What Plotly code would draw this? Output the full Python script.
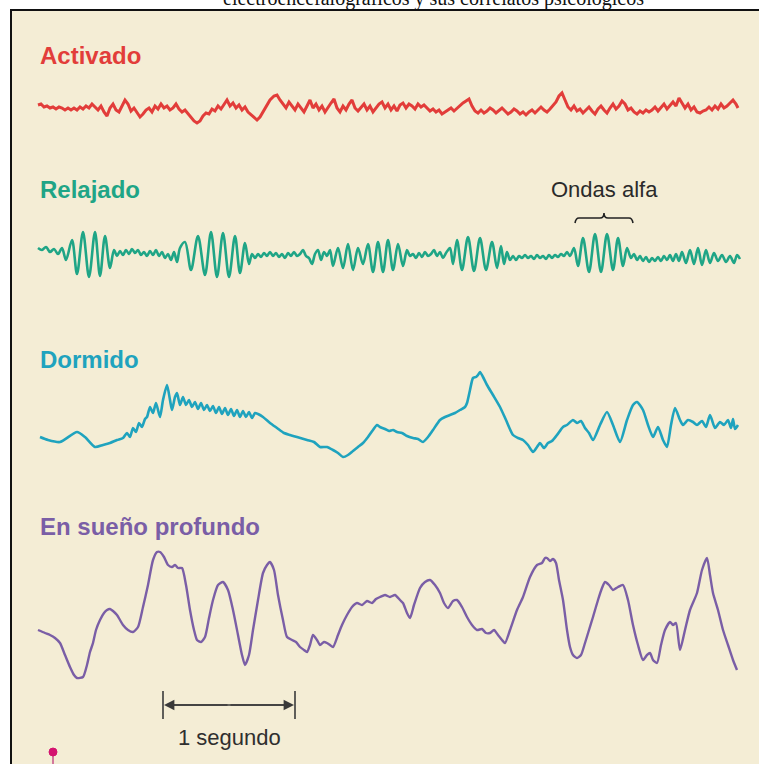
import numpy as np
import plotly.graph_objects as go

FS = 132  # muestras por segundo (escala: barra de 1 segundo)

# ---------------- Datos (muestra, amplitud) ----------------
act_n = [38,41,44,47,50,53,56,59,62,65,
         68,71,74,77,80,83,86,89,92,95,
         98,101,104,107,110,113,116,119,122,125,
         128,131,134,137,140,143,146,149,152,155,
         158,161,164,167,170,173,176,179,182,185,
         188,191,194,197,200,203,206,209,212,215,
         218,221,224,227,230,233,236,239,242,245,
         248,251,254,257,260,263,
         266,270,274,
         277,280,283,286,289,292,295,298,301,304,
         307,310,313,316,319,322,325,328,331,334,
         337,340,343,346,349,352,355,358,361,364,
         367,370,373,376,379,382,385,388,391,394,
         397,400,403,406,409,412,415,418,421,424,
         427,430,433,436,439,442,445,448,451,454,
         457,460,463,466,469,472,475,478,481,484,
         487,490,493,496,499,502,505,508,511,514,
         517,520,523,526,529,532,535,538,541,544,
         547,550,553,556,559,562,565,568,571,574,
         577,580,583,586,589,592,595,598,601,604,
         607,610,613,616,619,622,625,628,631,634,
         637,640,643,646,649,652,655,658,661,664,
         667,670,673,676,679,682,685,688,691,694,
         697,700,703,706,709,712,715,718,721,724,
         727,730,733,736,738]
act_v = [3,4,1,2,0,1,-1,1,0,-2,
         0,-2,0,-2,1,-1,2,0,4,1,
         -2,2,-4,-8,0,4,-2,-4,2,8,
         4,-3,0,-4,-9,-6,-2,0,-4,2,
         -1,4,0,2,-2,0,4,-1,-4,-2,
         -6,-10,-13,-15,-13,-8,-5,-6,-1,-3,
         2,-1,4,8,2,5,0,3,-2,1,
         -4,-7,-9,-12,-9,-4,
         2,8,12,
         13,8,4,0,6,2,-2,4,0,-4,
         2,8,0,4,-2,2,-4,1,5,9,
         0,-4,2,-2,4,8,0,-3,1,4,
         -2,2,-4,0,4,6,0,4,-2,2,
         -3,3,5,0,4,2,-1,4,1,3,
         0,-3,-1,-4,-2,-6,-4,-2,0,-3,
         0,2,5,7,9,2,-3,-5,-2,-5,
         -3,0,-2,-5,-2,0,-3,-6,-4,-1,
         -3,-6,-4,-7,-4,-2,-5,-2,1,-2,
         -4,-1,2,6,12,15,8,1,-2,2,
         -3,-1,-5,-2,1,-3,-6,-1,2,-2,
         -5,0,4,-1,2,7,4,-2,0,-4,
         -6,-3,-5,-2,-4,-2,1,-3,0,4,
         -1,2,6,2,10,5,0,4,-2,1,
         -4,-5,-3,-2,1,-2,2,-1,4,0,
         2,5,8,4,0]

rel_n = [38,42,46,50,54,58,62,66,72,77,
         83,89,95,100,105,110,114,117,120,123,
         126,129,132,135,138,141,144,147,150,153,
         156,159,162,165,168,171,174,177,180,185,
         191,198,205,211,217,223,229,235,240,245,
         249,252,255,258,261,264,267,270,273,276,
         279,282,285,288,291,294,297,300,303,306,
         309,312,315,318,321,324,327,330,333,338,
         343,348,353,358,363,368,373,378,383,388,
         393,398,403,407,410,413,416,419,422,425,
         428,431,434,437,440,443,446,450,453,457,
         462,468,474,480,486,492,497,501,504,507,
         510,513,516,519,522,525,528,531,534,537,
         540,543,546,549,552,555,558,561,564,567,
         570,574,578,583,589,595,601,607,613,618,
         623,627,631,634,637,640,643,646,649,652,
         655,658,661,664,667,670,673,676,679,682,
         686,690,694,698,702,706,710,714,718,722,
         726,730,734,737,740]
rel_v = [10,8,11,6,9,4,10,-2,18,-16,
         26,-19,26,-18,22,-10,8,2,7,3,
         8,4,9,5,8,3,6,2,7,3,
         8,2,6,0,4,-2,6,-4,10,16,
         -12,22,-17,26,-19,25,-19,22,-15,15,
         -6,4,0,4,1,5,2,6,2,5,
         1,4,0,5,2,6,2,4,8,2,
         0,-6,4,8,-2,6,2,8,-8,10,
         -10,14,-12,10,-6,14,-14,16,-14,18,
         -12,14,-8,8,2,4,0,5,1,6,
         2,4,8,2,6,0,5,10,-6,18,
         -12,21,-13,20,-12,16,-10,12,-6,6,
         -2,2,-2,2,0,3,0,2,-1,3,
         0,2,-1,3,0,3,1,4,2,6,
         2,10,-8,20,-14,24,-14,24,-12,20,
         -8,10,0,4,-2,2,-3,1,-4,0,
         -3,1,-3,2,-2,3,-3,4,-3,6,
         -5,8,-6,10,-7,8,-5,5,-3,3,
         -4,2,-5,3,-1]

dor_n = [40,48,60,77,85,95,103,110,117,123,
         127,130,133,136,139,142,145,147,150,153,
         156,160,163,167,170,172,175,177,180,183,
         186,189,192,195,198,201,204,207,210,213,
         216,219,222,225,228,231,234,237,240,243,
         246,249,252,255,258,263,270,277,284,290,
         297,307,314,320,327,333,338,343,348,353,
         358,363,368,373,377,380,385,389,393,397,
         402,407,413,418,423,428,433,440,445,450,
         455,460,465,467,470,473,476,478,480,483,
         487,493,500,506,513,518,523,528,533,537,
         540,544,548,552,557,563,567,573,577,581,
         585,589,593,600,607,613,620,627,633,637,
         643,648,653,658,663,667,671,675,680,683,
         688,693,697,702,706,710,715,720,724,728,
         731,733,735,738]
dor_v = [-12,-15,-17,-7,-12,-22,-20,-18,-15,-13,
         -8,-12,-3,-7,2,-2,6,8,18,12,
         22,8,25,40,25,15,28,32,20,28,
         20,25,18,23,16,22,15,20,14,19,
         12,18,11,17,10,16,9,15,8,14,
         8,13,7,12,11,8,2,-3,-8,-10,
         -12,-15,-17,-22,-22,-25,-28,-32,-30,-26,
         -22,-18,-12,-5,0,-2,-4,-6,-5,-7,
         -8,-11,-13,-14,-17,-12,-5,5,8,10,
         12,15,18,22,35,47,48,50,53,48,
         40,30,18,5,-10,-13,-15,-20,-27,-22,
         -18,-23,-18,-16,-10,-2,0,5,2,4,
         -3,-8,-15,0,13,0,-17,5,20,23,
         15,0,-12,-2,-15,-22,0,17,5,0,
         5,3,0,4,-2,10,-3,3,0,5,
         -3,6,-4,0]

pro_n = [38,45,50,55,60,65,70,74,77,83,
         87,90,93,96,100,104,107,110,113,117,
         120,123,128,133,138,143,148,153,157,160,
         164,168,172,175,178,182,186,190,194,197,
         201,205,209,213,218,223,228,233,238,242,
         245,249,253,258,263,267,270,274,278,283,
         287,292,296,300,304,307,310,313,317,320,
         324,327,330,333,338,342,347,352,357,362,
         367,372,376,380,385,390,395,400,403,407,
         410,414,420,425,430,435,440,444,448,453,
         457,462,467,472,477,482,486,490,494,498,
         502,505,510,517,523,530,537,542,545,547,
         550,553,556,559,563,567,570,573,577,581,
         585,589,593,598,602,605,609,613,618,623,
         628,633,638,643,647,650,653,657,661,665,
         670,673,676,680,685,690,697,702,707,710,
         713,718,723,728,733,737]
pro_v = [-15,-18,-20,-23,-28,-40,-52,-60,-63,-62,
         -50,-37,-28,-15,-5,2,5,6,4,0,
         -5,-10,-15,-17,-12,8,30,55,63,63,
         58,50,48,50,47,47,30,5,-15,-25,
         -27,-22,-3,15,30,33,25,5,-20,-40,
         -50,-40,-15,15,42,50,53,45,20,-5,
         -22,-25,-27,-32,-35,-37,-30,-20,-25,-30,
         -27,-28,-30,-32,-20,-10,0,8,12,10,
         14,12,16,18,20,18,20,15,12,2,
         -3,10,27,33,35,30,22,12,7,14,
         15,8,-2,-10,-15,-14,-18,-18,-15,-20,
         -25,-28,-15,5,18,38,50,52,57,57,
         54,56,52,35,15,-15,-32,-40,-43,-40,
         -28,-15,-2,15,27,33,30,25,28,30,
         15,-10,-30,-45,-40,-38,-45,-48,-30,-15,
         -7,-10,-8,-35,-15,5,22,45,57,40,
         22,5,-15,-30,-45,-55]

series_names = ["Activado", "Relajado", "Dormido", "En sueño profundo"]
series_colors = ["#E23D3A", "#1FA586", "#1FA3BE", "#7A5EA6"]

# ---------------- Layout constants ----------------
W, H = 759, 764
BG = "#F4EDD5"
baselines = [108, 258, 425, 615]   # pixel row of each trace's zero line
label_rows = [55, 190, 360, 526]
LABEL_X = 38

def px(x):
    return x / W

def py(y):
    return 1 - y / H

fig = go.Figure()

data = [(act_n, act_v), (rel_n, rel_v), (dor_n, dor_v), (pro_n, pro_v)]
widths = [3.0, 2.6, 2.6, 2.4]
shapes_line = ["linear", "spline", "spline", "spline"]
smooth = [0, 0.9, 0.6, 0.6]
for i, ((n, v), name, col) in enumerate(zip(data, series_names, series_colors)):
    t = np.array(n) / FS
    line = dict(color=col, width=widths[i], shape=shapes_line[i])
    if shapes_line[i] == "spline":
        line["smoothing"] = smooth[i]
    fig.add_trace(go.Scatter(
        x=t, y=np.array(v), mode="lines", name=name, line=line,
        yaxis="y" if i == 0 else f"y{i+1}", hoverinfo="skip", showlegend=False))

layout_axes = {}
for i, b in enumerate(baselines):
    key = "yaxis" if i == 0 else f"yaxis{i+1}"
    ax = dict(range=[b - H, b], domain=[0, 1], visible=False, fixedrange=True)
    if i > 0:
        ax["overlaying"] = "y"
    layout_axes[key] = ax

shapes = []
# frame
shapes.append(dict(type="rect", xref="paper", yref="paper", x0=px(11), x1=1.05,
                   y0=-0.05, y1=py(10), fillcolor=BG,
                   line=dict(color="#111111", width=2), layer="below"))

# scale bar: 1 segundo
sb_t0 = 163 / FS
sb_t1 = sb_t0 + 1.0
sb_y = py(705)
for tt in (sb_t0, sb_t1):
    shapes.append(dict(type="line", xref="x", yref="paper", x0=tt, x1=tt,
                       y0=py(719), y1=py(691), line=dict(color="#3a3a3a", width=1.6)))
shapes.append(dict(type="line", xref="x", yref="paper", x0=sb_t0 + 0.03, x1=sb_t1 - 0.03,
                   y0=sb_y, y1=sb_y, line=dict(color="#3a3a3a", width=1.6)))

# brace over alpha waves (in relajado axis units)
alfa_c = 604 / FS
hw = 29 / FS
r = 4 / FS
path = (f"M {alfa_c-hw},35 Q {alfa_c-hw+0.2*r},40 {alfa_c-hw+r},40 "
        f"L {alfa_c-r},40 Q {alfa_c},40 {alfa_c},45 Q {alfa_c},40 {alfa_c+r},40 "
        f"L {alfa_c+hw-r},40 Q {alfa_c+hw-0.2*r},40 {alfa_c+hw},35")
shapes.append(dict(type="path", xref="x", yref="y2", path=path,
                   line=dict(color="#222222", width=1.6)))

# pink pin
shapes.append(dict(type="line", xref="paper", yref="paper", x0=px(53), x1=px(53),
                   y0=py(755), y1=py(766), line=dict(color="#C9508A", width=1.5)))
shapes.append(dict(type="circle", xref="paper", yref="paper", x0=px(49), x1=px(57),
                   y0=py(756), y1=py(748), fillcolor="#D4136F",
                   line=dict(color="#D4136F", width=1)))

annotations = []
SANS = "Liberation Sans, Arial, sans-serif"
for name, col, row in zip(series_names, series_colors, label_rows):
    annotations.append(dict(text=f"<b>{name}</b>", x=px(LABEL_X), y=py(row),
                            xref="paper", yref="paper", xanchor="left", yanchor="middle",
                            showarrow=False, font=dict(family=SANS, size=24, color=col)))

annotations.append(dict(text="Ondas alfa", x=alfa_c, y=py(190), xref="x", yref="paper",
                        xanchor="center", yanchor="middle", showarrow=False,
                        font=dict(family=SANS, size=22, color="#2a2a2a")))
annotations.append(dict(text="1 segundo", x=(sb_t0 + sb_t1) / 2, y=py(737), xref="x",
                        yref="paper", xanchor="center", yanchor="middle", showarrow=False,
                        font=dict(family=SANS, size=22, color="#2f2f2f")))
mid = (sb_t0 + sb_t1) / 2
for tt in (sb_t0, sb_t1):
    annotations.append(dict(text="", x=tt, y=sb_y, xref="x", yref="paper",
                            ax=mid, axref="x", ay=0, ayref="pixel", showarrow=True,
                            arrowhead=2, arrowsize=1.3, arrowwidth=1.6,
                            arrowcolor="#3a3a3a", standoff=1))

annotations.append(dict(text="electroencefalográficos y sus correlatos psicológicos",
                        x=px(434), y=py(12), xref="paper", yref="paper",
                        xanchor="center", yanchor="bottom", showarrow=False,
                        font=dict(family="Liberation Serif, Times New Roman, serif",
                                  size=20, color="#111111")))

fig.update_layout(
    width=W, height=H, autosize=False,
    margin=dict(l=0, r=0, t=0, b=0, pad=0),
    paper_bgcolor="white", plot_bgcolor="rgba(0,0,0,0)",
    xaxis=dict(range=[0, W / FS], domain=[0, 1], visible=False, fixedrange=True),
    shapes=shapes, annotations=annotations, showlegend=False,
    **layout_axes,
)

fig.write_html("out.html", config={"displayModeBar": False},
               post_script="document.body.style.margin='0';document.body.style.overflow='hidden';")
